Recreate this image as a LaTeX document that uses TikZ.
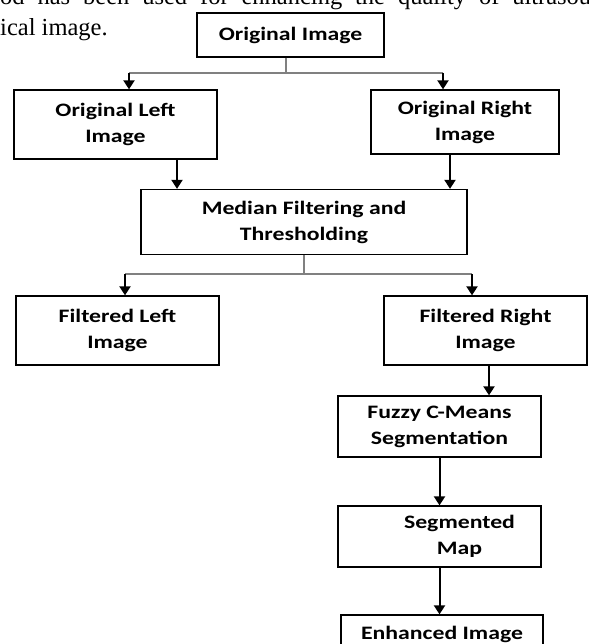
\documentclass[tikz,border=0pt]{standalone}
\usepackage{fontspec}
\setmainfont{Liberation Serif}
\newfontfamily\boxfont{Carlito}[FakeStretch=1.25]
\usetikzlibrary{arrows.meta}

\begin{document}
\begin{tikzpicture}[x=1pt,y=-1pt,
  box/.style={draw,line width=1.3pt,minimum width=203pt,minimum height=69pt,inner sep=0pt,align=center,font=\boxfont\bfseries\fontsize{19}{26}\selectfont},
  tree/.style={draw=gray,line width=1.2pt},
  arr/.style={line width=2pt,-{Triangle[length=9pt,width=11pt]}},
  body/.style={anchor=base west,inner sep=0pt,font=\fontsize{24.5}{31}\selectfont}]
  \useasboundingbox (0,0) rectangle (588,644);
  \clip (0,0) rectangle (588,644);

  % Running text of the page
  \node[body] (txtA) at (0,5) {\makebox[591pt][s]{od has been used for enhancing the quality of ultrasou}};
  \node[body] (txtB) at (0,36) {ical image.};

  % Boxes
  \node[box,minimum width=187pt,minimum height=44pt] (orig) at (290.5,35) {Original Image};
  \node[box] (oleft) at (115.5,124.5) {Original Left\\Image};
  \node[box,minimum width=188pt,minimum height=64pt] (oright) at (465,122) {Original Right\\Image};
  \node[box,minimum width=326pt,minimum height=65pt] (median) at (304,222) {Median Filtering and\\Thresholding};
  \node[box] (fleft) at (117.5,330.5) {Filtered Left\\Image};
  \node[box] (fright) at (485.5,330.5) {Filtered Right\\Image};
  \node[box,minimum height=61pt] (fuzzy) at (439.5,426.5) {Fuzzy C-Means\\Segmentation};
  \node[box,minimum height=61pt] (segmap) at (439.5,536.5) {\hspace*{40pt}Segmented\\\hspace*{40pt}Map};
  \node[box,minimum width=202pt,minimum height=38pt] (enh) at (442,634) {Enhanced Image};

  % Split of the original image
  \coordinate (j1) at (286,73);
  \coordinate (j1l) at (129,73);
  \coordinate (j1r) at (443,73);
  \draw[tree] (j1 |- orig.south) -- (j1);
  \draw[tree] (j1l) -- (j1r);
  \draw[arr] (j1l) -- (j1l |- oleft.north);
  \draw[arr] (j1r) -- (j1r |- oright.north);

  % Both halves into the filter
  \coordinate (ol) at (177,0);
  \coordinate (or) at (450,0);
  \draw[arr] (ol |- oleft.south) -- (ol |- median.north);
  \draw[arr] (or |- oright.south) -- (or |- median.north);

  % Split of the filtered image
  \coordinate (j2) at (304,274);
  \coordinate (j2l) at (125,274);
  \coordinate (j2r) at (472,274);
  \draw[tree] (median.south) -- (j2);
  \draw[tree] (j2l) -- (j2r);
  \draw[arr] (j2l) -- (j2l |- fleft.north);
  \draw[arr] (j2r) -- (j2r |- fright.north);

  % Right branch down to the result
  \coordinate (fr) at (489,0);
  \draw[arr] (fr |- fright.south) -- (fr |- fuzzy.north);
  \draw[arr] (fuzzy.south) -- (segmap.north);
  \draw[arr] (segmap.south) -- (segmap.south |- enh.north);
\end{tikzpicture}
\end{document}
